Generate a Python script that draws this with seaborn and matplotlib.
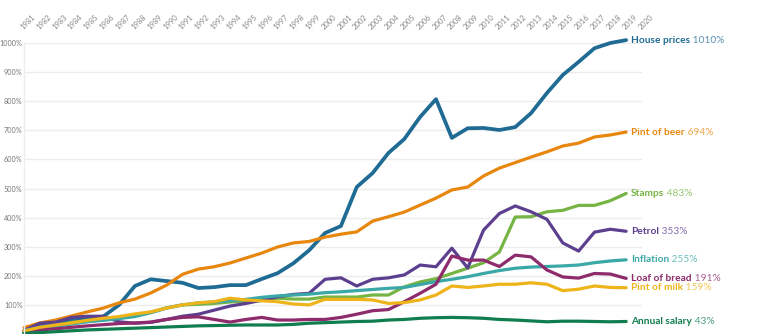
import numpy as np
import pandas as pd
import matplotlib
matplotlib.use("Agg")
import matplotlib.pyplot as plt
import matplotlib.colors as mcolors
import seaborn as sns

years = list(range(1981, 2020))

house_prices = [5, 30, 35, 48, 55, 60, 100, 165, 188, 182, 176, 158, 161, 168, 168, 189, 209, 243, 288, 347,
                371, 505, 553, 622, 670, 746, 807, 674, 707, 708, 701, 711, 759, 828, 890, 935, 982, 1000, 1010]
pint_of_beer = [22, 38, 48, 62, 76, 89, 107, 120, 141, 168, 205, 223, 231, 244, 261, 278, 299, 313, 318, 333,
                343, 351, 388, 403, 419, 443, 467, 495, 505, 543, 570, 589, 608, 626, 646, 656, 677, 684, 694]
stamps = [10, 20, 28, 40, 45, 48, 55, 62, 75, 90, 100, 102, 105, 110, 113, 118, 123, 120, 120, 127,
          127, 127, 134, 134, 162, 179, 190, 208, 226, 245, 282, 402, 403, 420, 425, 442, 442, 458, 483]
petrol = [12, 37, 41, 57, 61, 61, 42, 37, 40, 50, 61, 68, 82, 96, 105, 116, 128, 136, 140, 188,
          193, 165, 188, 193, 203, 237, 231, 295, 227, 357, 414, 440, 420, 394, 313, 285, 350, 360, 353]
inflation = [12, 22, 27, 34, 42, 47, 53, 60, 73, 89, 100, 107, 110, 114, 119, 126, 131, 134, 137, 142,
             145, 149, 153, 157, 160, 170, 180, 188, 197, 208, 218, 226, 230, 232, 234, 237, 245, 251, 255]
loaf_of_bread = [8, 14, 18, 23, 28, 32, 36, 38, 41, 50, 57, 59, 50, 41, 50, 57, 48, 48, 50, 50,
                 57, 68, 80, 84, 111, 140, 171, 268, 254, 254, 232, 271, 265, 220, 196, 192, 208, 206, 191]
pint_of_milk = [10, 23, 31, 38, 47, 54, 60, 69, 76, 89, 100, 107, 111, 123, 117, 114, 111, 103, 100, 119,
                119, 119, 117, 105, 108, 117, 134, 165, 160, 165, 171, 171, 176, 171, 149, 154, 165, 160, 159]
annual_salary = [2, 5, 8, 11, 14, 16, 18, 20, 22, 24, 26, 28, 29, 30, 31, 31, 31, 33, 37, 39,
                 41, 43, 44, 48, 50, 54, 56, 57, 56, 54, 50, 48, 45, 42, 44, 44, 43, 42, 43]

series_names = ["House prices", "Pint of beer", "Stamps", "Petrol", "Inflation",
                "Loaf of bread", "Pint of milk", "Annual salary"]
series_values = [house_prices, pint_of_beer, stamps, petrol, inflation,
                 loaf_of_bread, pint_of_milk, annual_salary]
colors = ["#1f6b94", "#e8870e", "#76b443", "#5d3f90", "#3aa8a6", "#8d2b6c", "#eeb41a", "#107d4e"]
year_ticks = list(range(1981, 2021))
y_ticks = list(range(100, 1001, 100))

df = pd.concat([pd.DataFrame({"year": years, "value": v, "series": n})
                for n, v in zip(series_names, series_values)], ignore_index=True)

sns.set_theme(style="white")
plt.rcParams["font.family"] = ["Lato", "DejaVu Sans"]

fig = plt.figure(figsize=(7.65, 3.34), dpi=100)
ax = fig.add_axes([24 / 765, 0, (642 - 24) / 765, (334 - 43) / 334])

palette = dict(zip(series_names, colors))
sns.lineplot(data=df, x="year", y="value", hue="series", palette=palette,
             linewidth=2.3, legend=False, ax=ax,
             solid_capstyle="round", solid_joinstyle="round")
for ln in ax.lines:
    ln.set_clip_on(False)
ax.lines[0].set_linewidth(2.7)

ax.set_xlim(1981, 2020)
ax.set_ylim(0, 1000)
ax.set_yticks(y_ticks)
ax.set_yticklabels([f"{t}%" for t in y_ticks], fontsize=5.2, color="#777777")
ax.yaxis.grid(True, color="#ececec", linewidth=1.0)
ax.xaxis.grid(False)
ax.set_axisbelow(True)

ax.xaxis.tick_top()
ax.set_xticks(year_ticks)
ax.set_xticklabels([str(y) for y in year_ticks], fontsize=5.5, color="#888888",
                   rotation=45, ha="left", va="bottom", rotation_mode="anchor")
ax.tick_params(axis="x", which="both", length=0, pad=9, top=False)
ax.tick_params(axis="y", which="both", length=0, pad=1)
ax.set_xlabel("")
ax.set_ylabel("")
for side in ["top", "right", "bottom"]:
    ax.spines[side].set_visible(False)
ax.spines["left"].set_color("#eeeeee")
ax.spines["left"].set_linewidth(1.0)

fig.canvas.draw()
for name, vals, c in zip(series_names, series_values, colors):
    last = vals[-1]
    lab = ax.annotate(name, xy=(years[-1], last), xytext=(3.5, 0), textcoords="offset points",
                      fontsize=7.3, fontweight="bold", color=c, va="center", ha="left",
                      annotation_clip=False)
    rgb = np.array(mcolors.to_rgb(c))
    light = tuple(rgb * 0.75 + 0.25)
    fig.canvas.draw()
    ax.annotate(f" {last}%", xycoords=lab, xy=(1, 0.5), va="center", ha="left",
                fontsize=7.3, color=light, annotation_clip=False)

fig.savefig("out.png", dpi=100, facecolor="white")
